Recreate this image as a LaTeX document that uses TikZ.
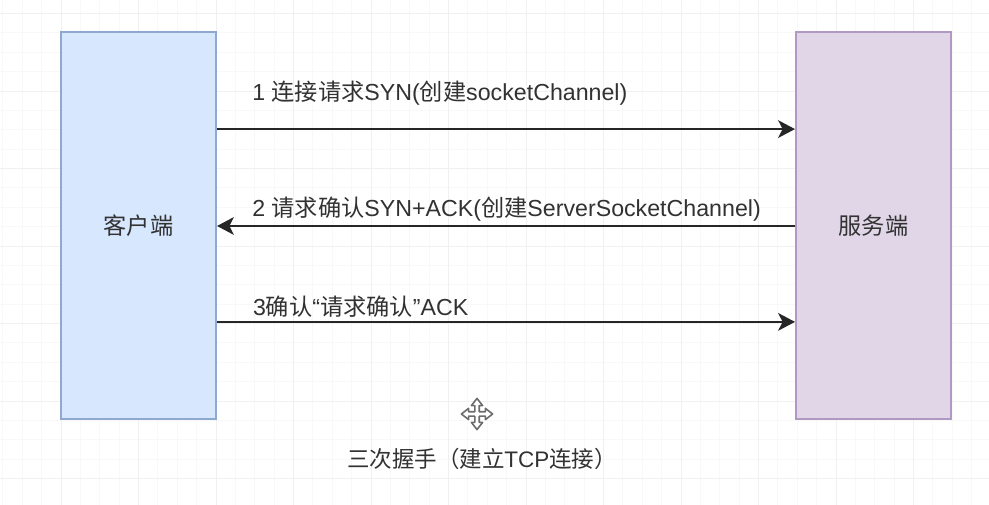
\documentclass[tikz,border=0pt]{standalone}
\usepackage{fontspec}
\setmainfont{Liberation Sans}
\newfontfamily\cjkfont{Noto Sans CJK SC}
\newcommand{\zh}[1]{{\cjkfont #1}}
\usetikzlibrary{arrows.meta}
\definecolor{ClientFill}{RGB}{215,231,253}
\definecolor{ClientLine}{RGB}{143,168,207}
\definecolor{ServerFill}{RGB}{225,214,232}
\definecolor{ServerLine}{RGB}{176,154,196}
\definecolor{GridMinor}{RGB}{248,248,248}
\definecolor{GridMajor}{RGB}{240,240,240}
\definecolor{InkGray}{RGB}{50,50,50}
\tikzset{
  peerbox/.style={line width=0.5mm, minimum width=3.875cm, minimum height=9.675cm,
    inner sep=0pt, align=center, text=InkGray, font=\fontsize{16.5}{20}\selectfont},
  msglabel/.style={anchor=west, inner sep=0pt, text=InkGray, font=\fontsize{16.5}{20}\selectfont},
  msgarrow/.style={-{Stealth[length=4.2mm,width=4.4mm,inset=1.1mm]}, line width=0.5mm, black!85},
  cursorline/.style={gray!85!black, line width=0.4mm, line join=round},
}
\begin{document}
\begin{tikzpicture}
  \useasboundingbox (0,0) rectangle (24.725,12.625);
  \fill[white] (0,0) rectangle (24.725,12.625);
  % grid
  \foreach \i in {0,...,51} {
    \draw[GridMinor, line width=0.25mm] ({-0.4125+\i*0.484375},0) -- ({-0.4125+\i*0.484375},12.625);
  }
  \foreach \i in {0,...,26} {
    \draw[GridMinor, line width=0.25mm] (0,{0.66+\i*0.484375}) -- (24.725,{0.66+\i*0.484375});
  }
  \foreach \i in {0,...,13} {
    \draw[GridMajor, line width=0.25mm] ({-0.4125+\i*1.9375},0) -- ({-0.4125+\i*1.9375},12.625);
  }
  \foreach \i in {0,...,6} {
    \draw[GridMajor, line width=0.25mm] (0,{0.66+\i*1.9375}) -- (24.725,{0.66+\i*1.9375});
  }
  \node[peerbox, draw=ClientLine, fill=ClientFill] (client) at (3.4625,6.9875) {\zh{客户端}};
  \node[peerbox, draw=ServerLine, fill=ServerFill] (server) at (21.8375,6.9875) {\zh{服务端}};
  \draw[msgarrow] ([yshift=2.41cm]client.east) -- ([yshift=2.41cm]server.west);
  \draw[msgarrow] ([yshift=-0.0125cm]server.west) -- ([yshift=-0.0125cm]client.east);
  \draw[msgarrow] ([yshift=-2.41cm]client.east) -- ([yshift=-2.41cm]server.west);
  \node[msglabel] (syn) at (6.3,10.3) {1 \zh{连接请求}SYN(\zh{创建}socketChannel)};
  \node[msglabel] (synack) at (6.3,7.4) {2 \zh{请求确认}SYN+ACK(\zh{创建}ServerSocketChannel)};
  \node[msglabel] (ack) at (6.32,4.95) {3\zh{确认}“\zh{请求确认}”ACK};
  \node[msglabel, anchor=center, font=\fontsize{16}{20}\selectfont] (title) at (12.05,1.14) {\zh{三次握手（建立}TCP\zh{连接）}};
  % move cursor
  \foreach \a in {0,90,180,270} {
    \begin{scope}[shift={(11.925,2.275)}, rotate=\a]
      \draw[cursorline, fill=white]
        (0.055,0.055) -- (0.055,0.21) -- (0.14,0.21) -- (0,0.39) -- (-0.14,0.21) -- (-0.055,0.21) -- (-0.055,0.055);
    \end{scope}
  }
\end{tikzpicture}
\end{document}
